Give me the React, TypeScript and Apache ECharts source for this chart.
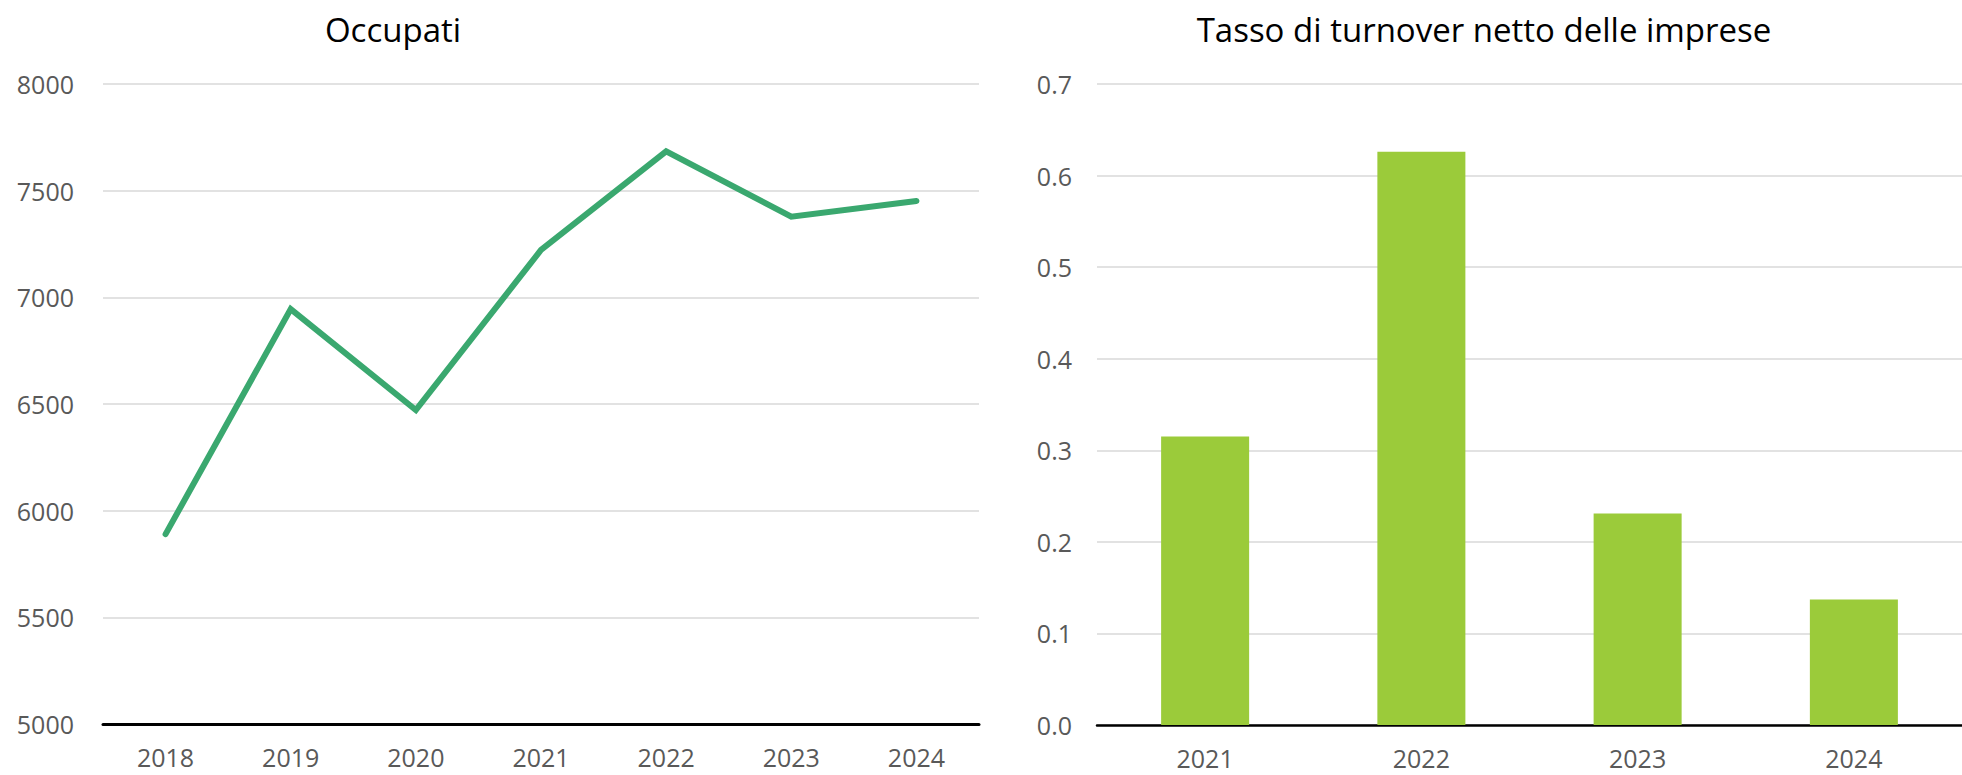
import React, { useEffect, useRef } from "react";
import * as echarts from "echarts";

const occupatiYears = ["2018", "2019", "2020", "2021", "2022", "2023", "2024"];
const occupatiValues = [5890, 6945, 6472, 7222, 7684, 7378, 7452];
const occupatiAxis = { min: 5000, max: 8000, interval: 500 };

const turnoverYears = ["2021", "2022", "2023", "2024"];
const turnoverValues = [0.315, 0.626, 0.231, 0.137];
const turnoverAxis = { min: 0, max: 0.7, interval: 0.1 };

const titles = ["Occupati", "Tasso di turnover netto delle imprese"];

const FONT = "'Open Sans', 'Noto Sans', sans-serif";
const LABEL_COLOR = "#595959";
const GRID_COLOR = "#d9d9d9";

export default function App() {
  const ref = useRef<HTMLDivElement>(null);

  useEffect(() => {
    if (!ref.current) return;
    const chart = echarts.init(ref.current, undefined, { renderer: "svg" });
    const axisLabelY = { color: LABEL_COLOR, fontSize: 25, fontFamily: FONT };
    const axisLabelX = {
      color: LABEL_COLOR,
      fontSize: 25,
      fontFamily: FONT,
      lineHeight: 19,
      margin: 23,
    };
    chart.setOption({
      animation: false,
      backgroundColor: "#ffffff",
      graphic: [
        {
          type: "text",
          x: 393,
          y: 29,
          style: {
            text: titles[0],
            fontSize: 33,
            fontFamily: FONT,
            fill: "#000000",
            textAlign: "center",
            textVerticalAlign: "middle",
          },
        },
        {
          type: "text",
          x: 1484,
          y: 29,
          style: {
            text: titles[1],
            fontSize: 33,
            fontFamily: FONT,
            fill: "#000000",
            textAlign: "center",
            textVerticalAlign: "middle",
          },
        },
      ],
      grid: [
        { left: 103, right: 983, top: 84, bottom: 51 },
        { left: 1097, right: -7, top: 84, bottom: 50 },
      ],
      xAxis: [
        {
          type: "category",
          gridIndex: 0,
          data: occupatiYears,
          boundaryGap: true,
          axisLine: { show: true, lineStyle: { color: "#000000", width: 3 } },
          axisTick: { show: false },
          axisLabel: axisLabelX,
          splitLine: { show: false },
        },
        {
          type: "category",
          gridIndex: 1,
          data: turnoverYears,
          boundaryGap: true,
          axisLine: { show: true, lineStyle: { color: "#000000", width: 2.5 } },
          axisTick: { show: false },
          axisLabel: axisLabelX,
          splitLine: { show: false },
        },
      ],
      yAxis: [
        {
          type: "value",
          gridIndex: 0,
          min: occupatiAxis.min,
          max: occupatiAxis.max,
          interval: occupatiAxis.interval,
          axisLine: { show: false },
          axisTick: { show: false },
          axisLabel: { ...axisLabelY, margin: 29, formatter: (v: number) => String(v) },
          splitLine: { show: true, lineStyle: { color: GRID_COLOR, width: 1.5 } },
        },
        {
          type: "value",
          gridIndex: 1,
          min: turnoverAxis.min,
          max: turnoverAxis.max,
          interval: turnoverAxis.interval,
          axisLine: { show: false },
          axisTick: { show: false },
          axisLabel: {
            ...axisLabelY,
            margin: 25,
            formatter: (v: number) => v.toFixed(1),
          },
          splitLine: { show: true, lineStyle: { color: GRID_COLOR, width: 1.5 } },
        },
      ],
      series: [
        {
          type: "line",
          xAxisIndex: 0,
          yAxisIndex: 0,
          data: occupatiValues,
          showSymbol: false,
          symbol: "none",
          lineStyle: { color: "#3aa86f", width: 6, cap: "round", join: "miter" },
          itemStyle: { color: "#3aa86f" },
          z: 3,
        },
        {
          type: "bar",
          xAxisIndex: 1,
          yAxisIndex: 1,
          data: turnoverValues,
          barWidth: "40.7%",
          itemStyle: { color: "#9bcb3a" },
        },
      ],
    });
    return () => chart.dispose();
  }, []);

  return (
    <div
      ref={ref}
      style={{ position: "fixed", left: 0, top: 0, width: 1962, height: 775, background: "#fff" }}
    />
  );
}
